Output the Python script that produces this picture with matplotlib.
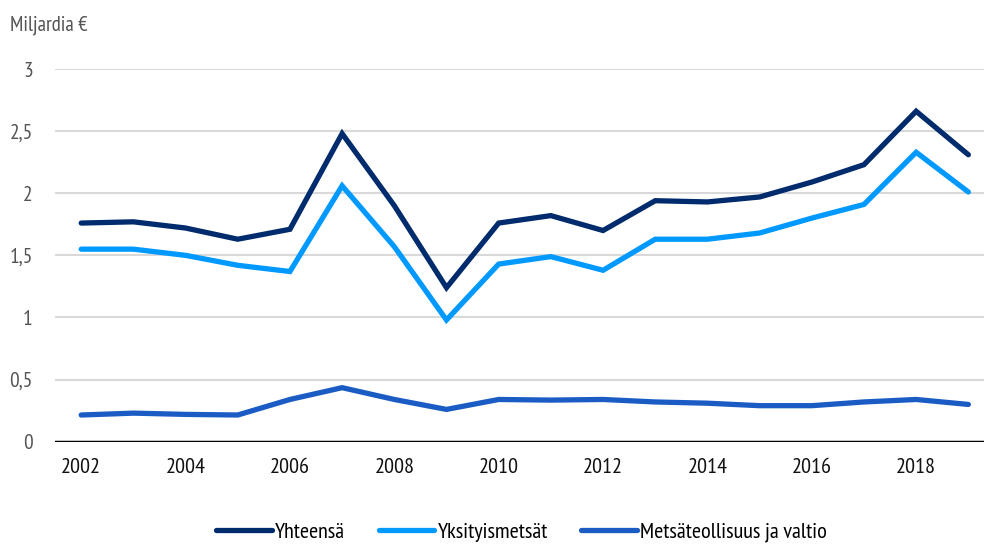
import matplotlib.pyplot as plt

years = list(range(2002, 2020))
yhteensa = [1.76, 1.77, 1.72, 1.63, 1.71, 2.48, 1.90, 1.24, 1.76, 1.82,
            1.70, 1.94, 1.93, 1.97, 2.09, 2.23, 2.66, 2.31]
yksityis = [1.55, 1.55, 1.50, 1.42, 1.37, 2.06, 1.57, 0.98, 1.43, 1.49,
            1.38, 1.63, 1.63, 1.68, 1.80, 1.91, 2.33, 2.01]
teollisuus = [0.215, 0.23, 0.22, 0.215, 0.34, 0.435, 0.34, 0.26, 0.34, 0.335,
              0.34, 0.32, 0.31, 0.29, 0.29, 0.32, 0.34, 0.30]
labels = ["Yhteensä", "Yksityismetsät", "Metsäteollisuus ja valtio"]
colors = ["#002b6c", "#0099ff", "#1a5cc4"]
yticks = [0, 0.5, 1, 1.5, 2, 2.5, 3]
ytick_labels = ["0", "0,5", "1", "1,5", "2", "2,5", "3"]

plt.rcParams['font.family'] = ['PT Sans Narrow', 'DejaVu Sans']

fig = plt.figure(figsize=(9.84, 5.46), dpi=100)
ax = fig.add_axes([0.056, 0.191, 0.944, 0.6826])

for data, lab, c in zip([yhteensa, yksityis, teollisuus], labels, colors):
    ax.plot(years, data, color=c, lw=3.8, label=lab, solid_capstyle='round',
            solid_joinstyle='miter')

ax.set_ylim(0, 3)
ax.set_xlim(2001.5, 2019.3)
ax.set_yticks(yticks)
ax.set_yticklabels(ytick_labels)
ax.set_xticks(range(2002, 2019, 2))
ax.grid(axis='y', color='#d9d9d9', lw=1.5)
ax.set_axisbelow(True)
ax.axhline(0, color='black', lw=2.5, zorder=1)
for s in ax.spines.values():
    s.set_visible(False)
ax.tick_params(length=0)
ax.tick_params(axis='y', labelsize=15.5, labelcolor='#555555', pad=16)
ax.tick_params(axis='x', labelsize=16, labelcolor='#111111', pad=12)

fig.text(0.01, 0.954, "Miljardia €", fontsize=15, color='#555555', va='center')

fig.legend(loc='center', bbox_to_anchor=(0.53, 0.025), ncol=3, frameon=False,
           fontsize=16, handlelength=2.5, columnspacing=1.5, handletextpad=0.15)

fig.savefig("out.png", dpi=100)
